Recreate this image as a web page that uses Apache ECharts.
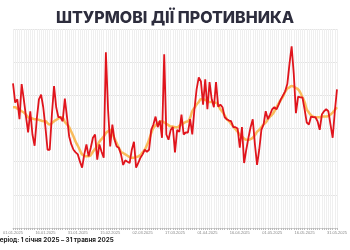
<!DOCTYPE html>
<html>
<head>
<meta charset="utf-8">
<script src="https://cdn.jsdelivr.net/npm/echarts@6/dist/echarts.min.js"></script>
<style>
  html, body { margin: 0; padding: 0; background: #fff; }
  #chart { width: 350px; height: 250px; }
</style>
</head>
<body>
<div id="chart"></div>
<script>
// daily assaults, 01.01.2025 - 31.05.2025
const dailyValues = [
  218,189,194,164,217,194,168,144,176,141,
  124,164,194,201,182,152,118,118,171,214,
  182,167,167,161,195,167,138,126,118,114,
  111,100,91,111,126,108,121,136,141,103,
  126,115,106,265,179,123,156,133,123,121,
  111,95,102,100,98,118,130,91,98,106,
  111,118,115,118,148,156,168,152,162,136,
  262,141,133,148,152,114,148,145,171,141,
  144,144,164,141,179,209,227,221,186,224,
  179,220,194,182,220,183,186,182,167,164,
  162,161,152,152,150,121,152,98,118,136,
  152,164,126,95,118,148,156,176,164,171,
  179,182,179,186,194,200,206,217,247,274,
  232,173,198,197,197,179,159,156,168,167,
  167,161,148,171,176,179,176,156,136,176,
  209
]
// smoothed trend
const avgValues = [
  182,182,180,178,176,174,171,167,166,165,
  164,164,163,162,161,161,158,156,158,161,
  163,165,167,166,160,156,152,145,138,130,
  124,117,111,109,108,108,110,115,119,124,
  130,134,138,143,146,148,142,135,128,121,
  115,113,111,109,107,106,106,107,108,110,
  114,118,125,133,143,151,155,158,160,161,
  159,157,155,153,153,152,152,154,156,158,
  160,161,166,176,181,186,190,194,194,193,
  191,190,190,189,189,185,179,175,170,164,
  161,157,153,149,145,141,138,135,133,133,
  134,136,140,145,148,152,156,159,164,168,
  171,176,182,188,193,198,205,210,212,214,
  213,211,209,204,197,190,179,174,170,168,
  167,167,167,168,168,168,169,171,174,178,
  182
]
// date labels
const days = []
for (let i = 0; i < 151; i++) {
  const d = new Date(2025, 0, 1 + i)
  const dd = String(d.getDate()).padStart(2, '0')
  const mm = String(d.getMonth() + 1).padStart(2, '0')
  days.push(dd + '.' + mm + '.' + d.getFullYear())
}

const myChart = echarts.init(document.getElementById('chart'))
const option = {
  backgroundColor: '#fff',
  animation: false,
  title: {
    text: 'ШТУРМОВІ ДІЇ ПРОТИВНИКА',
    left: 'center',
    top: 5,
    textStyle: {
      fontFamily: 'Inter',
      fontWeight: 800,
      fontSize: 16,
      color: '#2d2d3d'
    }
  },
  graphic: [
    {
      type: 'text',
      left: -5,
      top: 237,
      style: {
        text: 'Період: 1 січня 2025 – 31 травня 2025',
        fontFamily: 'Inter',
        fontWeight: 700,
        fontSize: 6.3,
        fill: '#222'
      }
    }
  ],
  grid: {
    left: 3,
    right: 3,
    top: 29,
    bottom: 22,
    containLabel: false
  },
  xAxis: {
    type: 'category',
    boundaryGap: false,
    data: days,
    axisLine: { lineStyle: { color: '#cfcfcf', width: 1 } },
    axisTick: { show: true, interval: 0, length: 2, lineStyle: { color: '#bbb' } },
    axisLabel: {
      interval: 14,
      fontSize: 4,
      color: '#888',
      margin: 3
    },
    splitLine: { show: true, interval: 0, lineStyle: { color: '#efefef', width: 1 } }
  },
  yAxis: {
    type: 'value',
    min: 0,
    max: 300,
    interval: 50,
    axisLabel: { show: false },
    axisLine: { show: false },
    axisTick: { show: false },
    splitLine: { lineStyle: { color: '#e4e4e4', width: 1 } }
  },
  series: [
    {
      name: 'avg',
      type: 'line',
      data: avgValues,
      smooth: true,
      showSymbol: false,
      lineStyle: { color: '#f9b03f', width: 2.5, opacity: 0.85 }
    },
    {
      name: 'daily',
      type: 'line',
      data: dailyValues,
      showSymbol: false,
      lineStyle: { color: '#e0141c', width: 1.8 }
    }
  ]
}
myChart.setOption(option)
</script>
</body>
</html>
